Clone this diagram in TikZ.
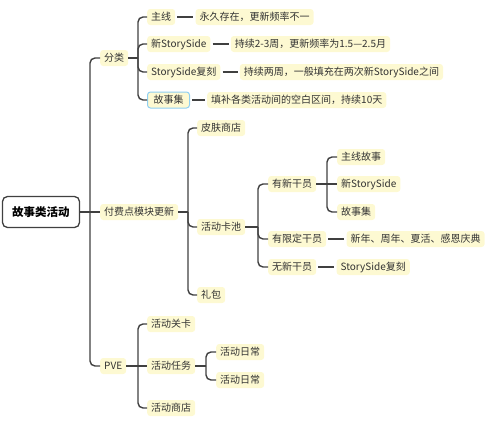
\documentclass[tikz,border=0pt]{standalone}
\usepackage{fontspec}
\setmainfont{Noto Sans CJK SC}
\usetikzlibrary{positioning}
\definecolor{notefill}{HTML}{FDF9D2}
\definecolor{linkgray}{HTML}{404040}
\definecolor{txtgray}{HTML}{333333}
\definecolor{selblue}{HTML}{8FCFF2}
\tikzset{
  topic/.style={fill=notefill, rounded corners=3pt, anchor=west, inner xsep=4pt, inner ysep=2.5pt,
    text height=8.5pt, text depth=2.5pt, font=\fontsize{10}{12}\selectfont, text=txtgray},
  rootbox/.style={draw=linkgray, fill=white, line width=1.3pt, rounded corners=5pt,
    minimum width=77pt, minimum height=31pt, font=\fontsize{11.5}{13}\selectfont\bfseries},
  link/.style={draw=linkgray, line width=1.4pt, rounded corners=5pt},
}

\begin{document}
\begin{tikzpicture}[x=1pt, y=-1pt]
  \useasboundingbox (0,0) rectangle (493,423);
  \node[rootbox] (root) at (41,212) {故事类活动};
  \node[topic] (fenlei) at (100,58) {分类};
  \node[topic] (fufei) at (100,212) {付费点模块更新};
  \node[topic] (pve) at (100,366) {PVE};

  \node[topic] (zhuxian) at (147,17) {主线};
  \node[topic] (xinss) at (147,44) {新StorySide};
  \node[topic] (ssfk) at (147,72) {StorySide复刻};
  \node[topic, draw=selblue, line width=1pt, inner xsep=6pt] (gsj) at (147,100) {故事集};
  \node[topic, right=20pt of zhuxian] (zhuxian-d) {永久存在，更新频率不一};
  \node[topic, right=20pt of xinss] (xinss-d) {持续2-3周，更新频率为1.5—2.5月};
  \node[topic, right=19pt of ssfk] (ssfk-d) {持续两周，一般填充在两次新StorySide之间};
  \node[topic, right=17pt of gsj] (gsj-d) {填补各类活动间的空白区间，持续10天};

  \node[topic] (pifu) at (197,128) {皮肤商店};
  \node[topic] (kachi) at (197,227) {活动卡池};
  \node[topic] (libao) at (197,295) {礼包};
  \node[topic] (youxin) at (268,184) {有新干员};
  \node[topic] (xianding) at (268,239) {有限定干员};
  \node[topic] (wuxin) at (268,267) {无新干员};
  \node[topic] (zxgs) at (337,157) {主线故事};
  \node[topic] (xinss2) at (337,184) {新StorySide};
  \node[topic] (gsj2) at (337,212) {故事集};
  \node[topic, right=20pt of xianding] (jieri) {新年、周年、夏活、感恩庆典};
  \node[topic, right=20pt of wuxin] (ssfk2) {StorySide复刻};

  \node[topic] (guanka) at (147,324) {活动关卡};
  \node[topic] (renwu) at (147,366) {活动任务};
  \node[topic] (shangdian) at (147,408) {活动商店};
  \node[topic] (richang1) at (216,352) {活动日常};
  \node[topic] (richang2) at (216,380) {活动日常};

  \coordinate (root-j) at (90,212);
  \coordinate (fenlei-j) at (138,58);
  \coordinate (fufei-j) at (188,212);
  \coordinate (kachi-j) at (258,227);
  \coordinate (youxin-j) at (327,184);
  \coordinate (pve-j) at (138,366);
  \coordinate (renwu-j) at (206,366);

  \draw[link] (root.east) -- (fufei.west);
  \foreach \c in {fenlei,pve} \draw[link] (root-j) |- (\c.west);
  \draw[link] (fenlei.east) -- (fenlei-j);
  \foreach \c in {zhuxian,xinss,ssfk,gsj} \draw[link] (fenlei-j) |- (\c.west);
  \foreach \c in {zhuxian,xinss,ssfk,gsj} \draw[link, shorten <=2pt, shorten >=2pt] (\c.east) -- (\c-d.west);
  \draw[link] (fufei.east) -- (fufei-j);
  \foreach \c in {pifu,kachi,libao} \draw[link] (fufei-j) |- (\c.west);
  \draw[link] (kachi.east) -- (kachi-j);
  \foreach \c in {youxin,xianding,wuxin} \draw[link] (kachi-j) |- (\c.west);
  \draw[link] (youxin.east) -- (xinss2.west);
  \foreach \c in {zxgs,gsj2} \draw[link] (youxin-j) |- (\c.west);
  \draw[link, shorten <=2pt, shorten >=2pt] (xianding.east) -- (jieri.west);
  \draw[link, shorten <=2pt, shorten >=2pt] (wuxin.east) -- (ssfk2.west);
  \draw[link] (pve.east) -- (renwu.west);
  \foreach \c in {guanka,shangdian} \draw[link] (pve-j) |- (\c.west);
  \draw[link] (renwu.east) -- (renwu-j);
  \foreach \c in {richang1,richang2} \draw[link] (renwu-j) |- (\c.west);
\end{tikzpicture}
\end{document}
